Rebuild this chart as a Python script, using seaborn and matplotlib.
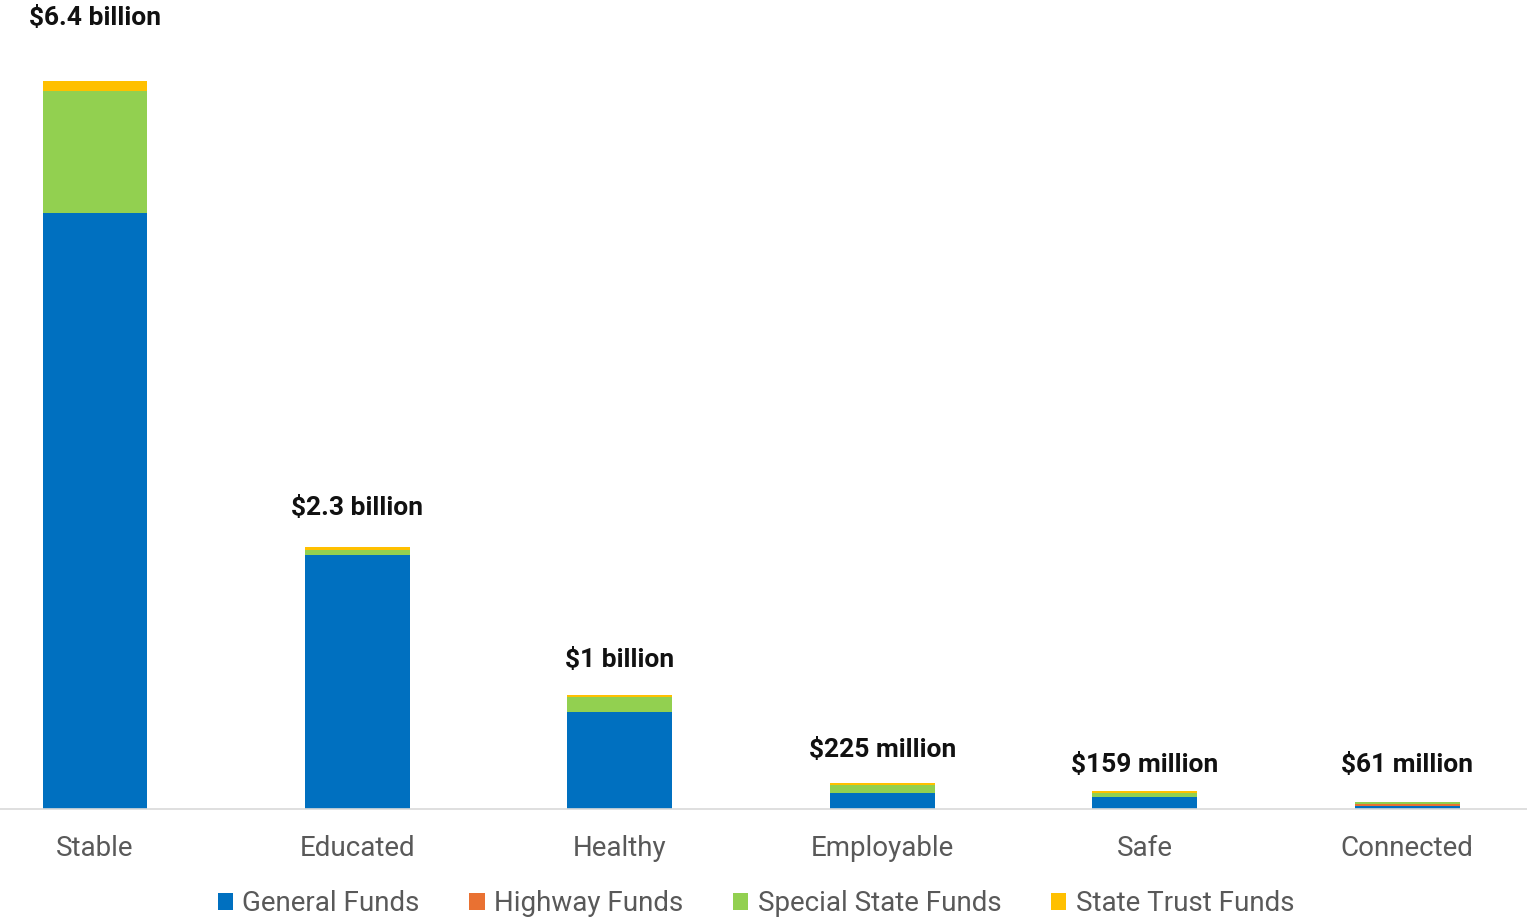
import numpy as np
import pandas as pd
import matplotlib
matplotlib.use("Agg")
import matplotlib.pyplot as plt
from matplotlib.patches import Patch
import seaborn as sns

# Spending by outcome area, in millions of dollars
categories = ["Stable", "Educated", "Healthy", "Employable", "Safe", "Connected"]
general_funds = [5240, 2235, 850, 140, 105, 25]
highway_funds = [0, 0, 0, 0, 0, 15]
special_state_funds = [1072, 45, 135, 70, 40, 18]
state_trust_funds = [88, 20, 15, 15, 14, 3]
total_labels = ["$6.4 billion", "$2.3 billion", "$1 billion",
                "$225 million", "$159 million", "$61 million"]

series_names = ["General Funds", "Highway Funds", "Special State Funds", "State Trust Funds"]
series_values = [general_funds, highway_funds, special_state_funds, state_trust_funds]
series_colors = ["#0070C0", "#E97132", "#92D050", "#FFC000"]

# vertical gap (pixels) between each bar top and its total label
label_gap_px = [63, 39, 35, 33, 26, 37]

sns.set_style("white")
plt.rcParams["font.family"] = ["Roboto", "DejaVu Sans"]

fig = plt.figure(figsize=(15.27, 9.18), dpi=100)
ax = fig.add_axes([0.0, (918 - 809) / 918, 1.0, 796.25 / 918])

# stacked bars drawn as cumulative totals, top layer first
df = pd.DataFrame({name: vals for name, vals in zip(series_names, series_values)})
df["category"] = categories
cumulative = df[series_names].cumsum(axis=1)
for name, color in reversed(list(zip(series_names, series_colors))):
    layer = pd.DataFrame({"category": categories, "value": cumulative[name].values})
    sns.barplot(data=layer, x="category", y="value", color=color, width=0.4,
                saturation=1, ax=ax, edgecolor="none", linewidth=0)

totals = cumulative[series_names[-1]].values
for i, (tot, text, gap) in enumerate(zip(totals, total_labels, label_gap_px)):
    ax.annotate(text, xy=(i, tot), xytext=(0, gap), textcoords="offset pixels",
                ha="center", va="center", fontsize=19, fontweight="bold",
                color="#111111")

ax.set_xlim(-0.362, 5.457)
ax.set_ylim(0, 7000)
ax.set_xlabel("")
ax.set_ylabel("")
ax.set_yticks([])
for side in ["left", "right", "top"]:
    ax.spines[side].set_visible(False)
ax.spines["bottom"].set_color("#D9D9D9")
ax.spines["bottom"].set_linewidth(1.2)
ax.tick_params(axis="x", length=0, pad=19, labelsize=20, labelcolor="#595959")

handles = [Patch(facecolor=c, edgecolor="none") for c in series_colors]
ax.legend(handles, series_names, loc="center", bbox_to_anchor=(0.495, -0.119),
          ncol=4, frameon=False, fontsize=20, labelcolor="#595959",
          handlelength=0.55, handleheight=0.55, handletextpad=0.33,
          columnspacing=1.8)

fig.savefig("out.png", dpi=100, facecolor="white")
